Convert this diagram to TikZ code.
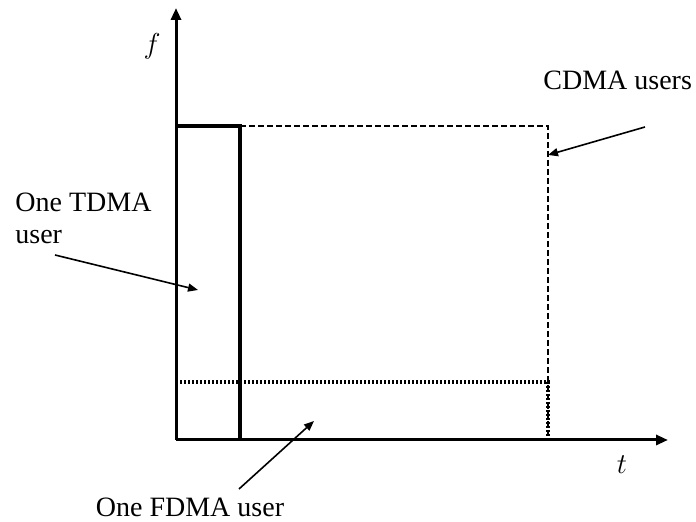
\documentclass[tikz,border=0pt]{standalone}
\usepackage{fontspec}
\setmainfont{Liberation Serif}
\usetikzlibrary{arrows.meta}
\begin{document}
\begin{tikzpicture}[x=0.5pt,y=-0.5pt,
  axis/.style={line width=1.5pt,-{Triangle[length=6pt,width=5pt]}},
  tdma/.style={line width=2pt},
  cdma/.style={line width=0.9pt,dash pattern=on 3pt off 1.5pt},
  fdma/.style={line width=1.6pt,dash pattern=on 1.2pt off 0.8pt},
  pointer/.style={line width=0.8pt,-{Triangle[length=5pt,width=4pt]}},
  lbl/.style={font=\fontsize{14}{16}\selectfont,inner sep=0pt}]
\useasboundingbox (0,0) rectangle (696,522);
% corner points
\coordinate (O) at (176,440);
\coordinate (ftop) at (176,8);
\coordinate (tend) at (668,440);
% CDMA region (dashed)
\draw[cdma] (240,126) -- (548,126) -- (548,440);
% FDMA band (dotted)
\draw[fdma] (176,382) -- (548,382) -- (548,440);
% TDMA slot (thick)
\draw[tdma] (176,126) -- (240,126) -- (240,440);
% axes
\draw[axis] (O) -- (ftop);
\draw[axis] (O) -- (tend);
% axis labels
\node[lbl] (f) at (152,46) {$f$};
\node[lbl] (t) at (622,465) {$t$};
% user labels
\node[lbl,anchor=west] (cdmaL) at (543,80) {CDMA users};
\node[lbl,align=left,anchor=north west] (tdmaL) at (15,193) {One TDMA\\user};
\node[lbl] (fdmaL) at (190,507) {One FDMA user};
% pointers
\coordinate (cdmaS) at (645,127);
\coordinate (cdmaE) at (548,155);
\coordinate (tdmaS) at (55,255);
\coordinate (tdmaE) at (198,290);
\coordinate (fdmaS) at (239,489);
\coordinate (fdmaE) at (314,421);
\draw[pointer] (cdmaS) -- (cdmaE);
\draw[pointer] (tdmaS) -- (tdmaE);
\draw[pointer] (fdmaS) -- (fdmaE);
\end{tikzpicture}
\end{document}
